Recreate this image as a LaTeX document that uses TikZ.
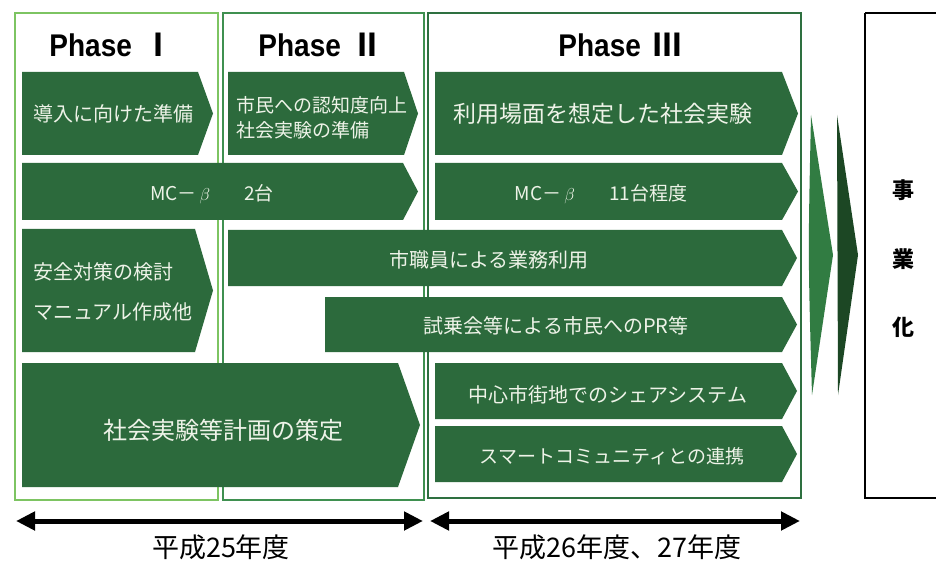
\documentclass[tikz,border=0pt]{standalone}
\usepackage{fontspec}
\setmainfont{Noto Sans CJK JP}
\newfontfamily\cjk{Noto Sans CJK JP}
\newfontfamily\latinsans{Liberation Sans}
\usetikzlibrary{arrows.meta}
\definecolor{boxgreen}{HTML}{2C6A3C}
\definecolor{txtwhite}{HTML}{EEF3E8}
\definecolor{frameone}{HTML}{7DC462}
\definecolor{frametwo}{HTML}{3F9050}
\definecolor{framethree}{HTML}{2E7040}
\definecolor{chevlight}{HTML}{317C42}
\definecolor{chevdark}{HTML}{1C4724}
\newcommand\greenarrow[5]{%
  \fill[boxgreen] (#1,#2) -- (#3,#2) -- (#4,{(#2+#5)/2}) -- (#3,#5) -- (#1,#5) -- cycle;}
\tikzset{
  lbl/.style={text=txtwhite, inner sep=0pt},
  phaselbl/.style={inner sep=0pt, yscale=1.12, transform shape, font=\latinsans\bfseries\fontsize{28}{30}\selectfont},
  yearlbl/.style={inner sep=0pt, font=\fontsize{27}{30}\selectfont},
  span/.style={line width=5pt, {Triangle[length=19pt,width=18pt]}-{Triangle[length=19pt,width=18pt]}, shorten <=0pt, shorten >=0pt}
}
\begin{document}
\begin{tikzpicture}[x=1pt,y=-1pt]
\useasboundingbox (0,0) rectangle (936,561);
\fill[white] (0,0) rectangle (936,561);

% phase frames
\draw[frameone, line width=2pt] (15,13) rectangle (218,500);
\draw[frametwo, line width=2pt] (223,13) rectangle (424,500);
\draw[framethree, line width=2pt] (428,13) rectangle (801,498);
\draw[black, line width=1.6pt] (865,13) -- (938,13) (865,13) -- (865,498) -- (938,498);

% phase labels
\node[phaselbl] (p1) at (111,45) {Phase\hspace{0.45em}{\cjk Ⅰ}};
\node[phaselbl] (p2) at (320,45) {Phase\hspace{0.45em}{\cjk Ⅱ}};
\node[phaselbl] (p3) at (620,45) {Phase\hspace{0.45em}{\cjk Ⅲ}};

% row 1
\greenarrow{22}{72}{198}{213}{155}
\node[lbl, font=\fontsize{20}{24}\selectfont] (a1) at (113,114) {導入に向けた準備};
\greenarrow{228}{72}{404}{418}{155}
\node[lbl, font=\fontsize{19}{25}\selectfont, align=left, anchor=west] (a2) at (236,118) {市民への認知度向上\\社会実験の準備};
\greenarrow{435}{72}{782}{798}{155}
\node[lbl, font=\fontsize{23}{26}\selectfont] (a3) at (603,114) {利用場面を想定した社会実験};

% row 2
\greenarrow{22}{163}{403}{418}{220}
\node[lbl, font=\fontsize{19}{22}\selectfont] (b1) at (212,194) {MC－\,$\beta$\hspace{1.8em}2台};
\greenarrow{435}{163}{782}{798}{220}
\node[lbl, font=\fontsize{19}{22}\selectfont] (b2) at (601,194) {MC－\,$\beta$\hspace{1.8em}11台程度};

% row 3
\greenarrow{22}{229}{195}{213}{352}
\node[lbl, font=\fontsize{20}{40}\selectfont, align=left, anchor=west] (c1) at (33,292) {安全対策の検討\\マニュアル作成他};
\greenarrow{228}{230}{782}{797}{286}
\node[lbl, font=\fontsize{20}{24}\selectfont] (c2) at (489,260) {市職員による業務利用};
\greenarrow{325}{297}{782}{797}{352}
\node[lbl, font=\fontsize{20}{24}\selectfont] (c3) at (556,326) {試乗会等による市民へのPR等};

% row 4
\greenarrow{22}{363}{398}{420}{487}
\node[lbl, font=\fontsize{24}{28}\selectfont] (d1) at (223,430) {社会実験等計画の策定};
\greenarrow{435}{363}{782}{797}{419}
\node[lbl, font=\fontsize{20}{24}\selectfont] (d2) at (608,395) {中心市街地でのシェアシステム};
\greenarrow{435}{426}{782}{797}{482}
\node[lbl, font=\fontsize{19}{24}\selectfont] (d3) at (612,456) {スマートコミュニティとの連携};

% big chevrons
\fill[chevlight] (811,115) .. controls (808,255) .. (812,395) -- (833,255) -- cycle;
\fill[chevdark] (837,115) -- (858,255) -- (838,395) -- cycle;

% final box label
\node[inner sep=0pt, font=\bfseries\fontsize{22}{26}\selectfont] (e1) at (903,190) {事};
\node[inner sep=0pt, font=\bfseries\fontsize{22}{26}\selectfont] (e2) at (903,259) {業};
\node[inner sep=0pt, font=\bfseries\fontsize{22}{26}\selectfont] (e3) at (903,327) {化};

% period spans
\coordinate (s1a) at (16,521);
\coordinate (s1b) at (423,521);
\coordinate (s2a) at (430,521);
\coordinate (s2b) at (800,521);
\draw[span] (s1a) -- (s1b);
\draw[span] (s2a) -- (s2b);
\node[yearlbl] (y1) at (221,547) {平成25年度};
\node[yearlbl] (y2) at (617,547) {平成26年度、27年度};
\end{tikzpicture}
\end{document}
